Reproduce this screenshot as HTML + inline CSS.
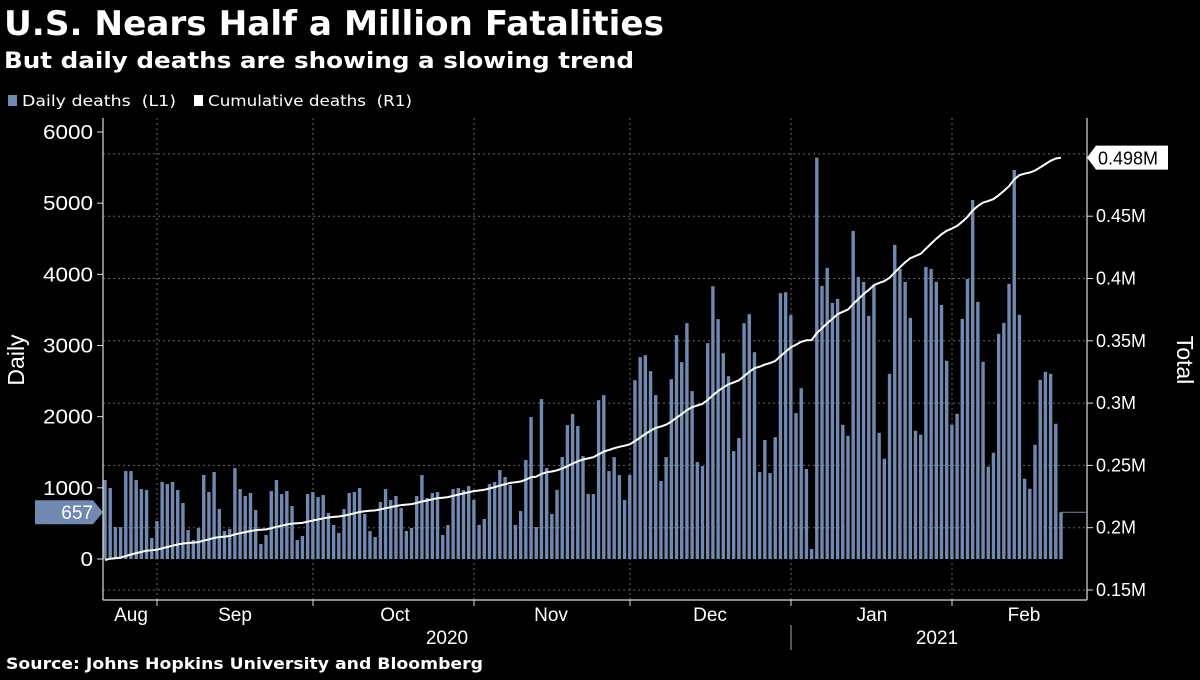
<!DOCTYPE html>
<html><head><meta charset="utf-8"><style>
body{margin:0;background:#000;width:1200px;height:675px;overflow:hidden;font-family:"Liberation Sans",sans-serif;color:#fff}
svg text{font-family:"Liberation Sans",sans-serif}
svg text.dv{font-family:"DejaVu Sans","Liberation Sans",sans-serif}
</style></head><body>
<svg id="c" width="1200" height="675">
<text class="dv" x="4" y="35" font-size="34" font-weight="bold" fill="#fff" textLength="660" lengthAdjust="spacingAndGlyphs">U.S. Nears Half a Million Fatalities</text>
<text class="dv" x="4" y="68" font-size="22" font-weight="bold" fill="#fff" textLength="630" lengthAdjust="spacingAndGlyphs">But daily deaths are showing a slowing trend</text>
<g>
<rect x="8" y="95" width="9" height="11" fill="#7089b0"/>
<text class="dv" x="22" y="106" font-size="15" fill="#fff" textLength="154" lengthAdjust="spacingAndGlyphs">Daily deaths&#160;&#160;(L1)</text>
<rect x="194" y="95" width="9" height="11" fill="#fff"/>
<text class="dv" x="208" y="106" font-size="15" fill="#fff" textLength="204" lengthAdjust="spacingAndGlyphs">Cumulative deaths&#160;&#160;(R1)</text>
</g>
<g id="grid"></g><g id="bars"></g><g id="line"></g><g id="axes"></g>
<text class="dv" x="6" y="669" font-size="16" font-weight="bold" fill="#fff" textLength="477" lengthAdjust="spacingAndGlyphs">Source: Johns Hopkins University and Bloomberg</text>
</svg>
<script>
const daily=[1110,997,449,449,1236,1236,1110,983,969,295,534,1082,1053,1082,969,787,407,267,435,1180,941,1222,702,393,421,1278,983,885,927,688,211,337,955,1110,913,955,744,267,323,913,941,871,899,646,478,365,702,
927,941,997,632,393,309,801,983,829,885,716,393,435,885,1180,857,927,941,337,478,983,997,969,1025,829,478,562,1053,1082,1250,1152,1039,478,674,1390,1994,449,2247,1278,632,969,1433,1882,2036,1868,
1446,913,913,2232,2303,1236,1432,1179,828,1179,2513,2836,2864,2640,2303,1095,1432,2527,3145,2766,3313,2359,1362,1306,3033,3833,3370,2892,2569,1516,1699,3313,3440,2906,1221,1671,1207,1713,3735,3749,3426,2050,2401,1264,140,
5640,3838,4090,3599,3655,1886,1732,4610,3964,3894,3416,3838,1774,1409,2602,4413,4076,3894,3388,1802,1746,4104,4076,3894,3571,2785,1886,2040,3374,3936,5045,3613,2771,1296,1493,3164,3318,3866,5466,3430,1128,987,1605,2518,2630,2602,1900,657];
const cumStart=0.173;
const leftTicks=[0,1000,2000,3000,4000,5000,6000];
const rightTicks=[0.15,0.2,0.25,0.3,0.35,0.4,0.45];
const months=["Aug","Sep","Oct","Nov","Dec","Jan","Feb"];
const monthLabelX=[131,235,395,551,710,872,1024];
const monthLines=[157,313,474,630,791,952];
const years=["2020","2021"];
const lastTotalLabel="0.498M";

const NS="http://www.w3.org/2000/svg";
function mk(p,t,a){const e=document.createElementNS(NS,t);for(const k in a)e.setAttribute(k,a[k]);p.appendChild(e);return e;}
const yL=v=>559-v*0.07117;
const yR=v=>590-(v-0.15)/0.05*62.3;
const n=daily.length;
const xI=i=>105+i*(1061-105)/(n-1);
const G=document.getElementById('grid'),B=document.getElementById('bars'),L=document.getElementById('line'),A=document.getElementById('axes');
rightTicks.concat([0.5]).forEach(v=>{const l=mk(G,'line',{x1:103,x2:1087,y1:yR(v),y2:yR(v),stroke:'#666','stroke-dasharray':'2,3'});

});
monthLines.forEach(x=>{const l=mk(G,'line',{x1:x,x2:x,y1:118,y2:600,stroke:'#666','stroke-dasharray':'2,3'});

});
daily.forEach((v,i)=>{const r=mk(B,'rect',{x:xI(i)-1.7,y:yL(v),width:3.4,height:Math.max(0,559-yL(v)),fill:'#7089b0'});

});
let c=cumStart,pts=[];
daily.forEach((v,i)=>{c+=v/1e6;pts.push(xI(i).toFixed(1)+','+yR(c).toFixed(1));});
const pl=mk(L,'polyline',{points:pts.join(' '),fill:'none',stroke:'#fff','stroke-width':2});


[[103,118,103,600],[1087,118,1087,600],[103,600,1087,600]].forEach(a=>{const l=mk(A,'line',{x1:a[0],y1:a[1],x2:a[2],y2:a[3],stroke:'#ddd','stroke-width':1.2});

});
leftTicks.forEach(v=>{mk(A,'line',{x1:97,x2:103,y1:yL(v),y2:yL(v),stroke:'#ddd'});
const t=mk(A,'text',{x:93,y:yL(v)+7,'font-size':20,fill:'#fff','text-anchor':'end',textLength:String(v).length*12.5,lengthAdjust:'spacingAndGlyphs'});t.textContent=v;

});
rightTicks.forEach(v=>{mk(A,'line',{x1:1087,x2:1093,y1:yR(v),y2:yR(v),stroke:'#ddd'});
const t=mk(A,'text',{x:1096,y:yR(v)+6,'font-size':18,fill:'#fff'});t.textContent=v+'M';

});
monthLines.forEach(x=>mk(A,'line',{x1:x,x2:x,y1:600,y2:606,stroke:'#ddd'}));
months.forEach((m,i)=>{const t=mk(A,'text',{x:monthLabelX[i],y:621,'font-size':19,fill:'#fff','text-anchor':'middle'});t.textContent=m;

});
mk(A,'line',{x1:791,x2:791,y1:625,y2:650,stroke:'#aaa'});
[[447,years[0]],[937,years[1]]].forEach(p=>{const t=mk(A,'text',{x:p[0],y:644,'font-size':19,fill:'#fff','text-anchor':'middle'});t.textContent=p[1];

});
const yl=mk(A,'text',{transform:'translate(24,360) rotate(-90)','font-size':23,fill:'#fff','text-anchor':'middle'});yl.textContent='Daily';


const yr=mk(A,'text',{transform:'translate(1177,360) rotate(90)','font-size':23,fill:'#fff','text-anchor':'middle'});yr.textContent='Total';


const lv=daily[n-1],ly=yL(lv);
mk(A,'line',{x1:xI(n-1),x2:1087,y1:ly,y2:ly,stroke:'#7089b0'});
const bp=mk(A,'polygon',{points:`35,${ly-12} 93,${ly-12} 103,${ly} 93,${ly+12} 35,${ly+12}`,fill:'#7089b0'});


const bt=mk(A,'text',{x:93,y:ly+7,'font-size':19,fill:'#fff','text-anchor':'end'});bt.textContent=lv;


const cy=yR(c);
const rp=mk(A,'polygon',{points:`1087,${cy} 1096,${cy-12} 1168,${cy-12} 1168,${cy+12} 1096,${cy+12}`,fill:'#fff'});


const rt=mk(A,'text',{x:1098,y:cy+7,'font-size':18,fill:'#000'});rt.textContent=lastTotalLabel;


</script>
</body></html>
